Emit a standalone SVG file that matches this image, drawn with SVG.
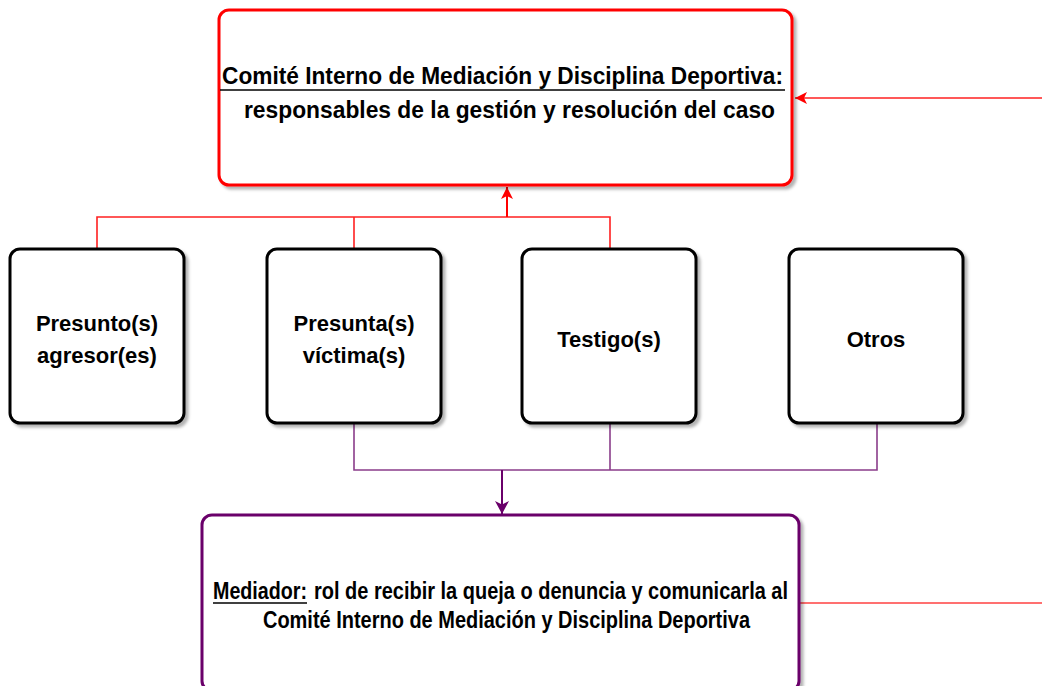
<svg xmlns="http://www.w3.org/2000/svg" width="1042" height="686" viewBox="0 0 1042 686">
<style>
.box{fill:#fff;stroke:#000;stroke-width:3;filter:url(#sh)}
.lbl{font-family:"Liberation Sans",Arial,sans-serif;font-weight:bold;font-size:22px;fill:#000;text-anchor:middle}
.big{font-family:"Liberation Sans",Arial,sans-serif;font-weight:bold;font-size:23px;fill:#000}
.red{fill:none;stroke:#ff2020;stroke-width:1.6}
.pur{fill:none;stroke:#8a3d8a;stroke-width:1.6}
</style>
<defs>
<filter id="sh" x="-10%" y="-10%" width="125%" height="125%">
<feDropShadow dx="3" dy="3" stdDeviation="1.5" flood-color="#000" flood-opacity="0.3"/>
</filter>
<marker id="ar" markerWidth="14" markerHeight="12" refX="12" refY="6" orient="auto" markerUnits="userSpaceOnUse">
<path d="M0,0 L12,6 L0,12 L3,6 Z" fill="#ff0000"/>
</marker>
<marker id="ap" markerWidth="14" markerHeight="14" refX="13" refY="7" orient="auto" markerUnits="userSpaceOnUse">
<path d="M0,0 L13,7 L0,14 L3.5,7 Z" fill="#6a006a"/>
</marker>
</defs>
<g id="connectors">
<path class="red" d="M97,249 V217 H507"/>
<path class="red" d="M354,249 V217"/>
<path class="red" d="M610,249 V217 H507"/>
<path d="M507,217 V187" fill="none" stroke="#ff0000" stroke-width="2" marker-end="url(#ar)"/>
<path d="M1042,98 H795" fill="none" stroke="#ff2020" stroke-width="1.6" marker-end="url(#ar)"/>
<path class="pur" d="M354,423 V470 H877 V423"/>
<path class="pur" d="M610,423 V470"/>
<path d="M502,470 V514" fill="none" stroke="#6a006a" stroke-width="2" marker-end="url(#ap)"/>
<path d="M800,603 H1042" fill="none" stroke="#ff4040" stroke-width="1.6"/>
</g>
<g id="comite">
<rect x="219" y="10" width="573" height="175" rx="10" fill="#fff" stroke="#ff0000" stroke-width="3" filter="url(#sh)"/>
<text class="big" x="222" y="84" textLength="561" lengthAdjust="spacingAndGlyphs">Comité Interno de Mediación y Disciplina Deportiva:</text>
<line x1="220" y1="90" x2="785" y2="90" stroke="#000" stroke-width="1.5"/>
<text class="big" x="244" y="118" textLength="531" lengthAdjust="spacingAndGlyphs">responsables de la gestión y resolución del caso</text>
</g>
<g id="agresor">
<rect class="box" x="10" y="249" width="174" height="174" rx="10"/>
<text class="lbl" x="97" y="331">Presunto(s)</text>
<text class="lbl" x="97" y="363">agresor(es)</text>
</g>
<g id="victima">
<rect class="box" x="267" y="249" width="174" height="174" rx="10"/>
<text class="lbl" x="354" y="331">Presunta(s)</text>
<text class="lbl" x="354" y="363">víctima(s)</text>
</g>
<g id="testigo">
<rect class="box" x="522" y="249" width="174" height="174" rx="10"/>
<text class="lbl" x="609" y="347">Testigo(s)</text>
</g>
<g id="otros">
<rect class="box" x="789" y="249" width="174" height="174" rx="10"/>
<text class="lbl" x="876" y="347">Otros</text>
</g>
<g id="mediador">
<rect x="202" y="515" width="597" height="176" rx="10" fill="#fff" stroke="#6a006a" stroke-width="3" filter="url(#sh)"/>
<text class="big" x="213" y="599" textLength="94" lengthAdjust="spacingAndGlyphs">Mediador:</text>
<line x1="213" y1="603" x2="307" y2="603" stroke="#000" stroke-width="1.5"/>
<text class="big" x="314" y="599" textLength="474" lengthAdjust="spacingAndGlyphs">rol de recibir la queja o denuncia y comunicarla al</text>
<text class="big" x="263" y="628" textLength="487" lengthAdjust="spacingAndGlyphs">Comité Interno de Mediación y Disciplina Deportiva</text>
</g>
</svg>
